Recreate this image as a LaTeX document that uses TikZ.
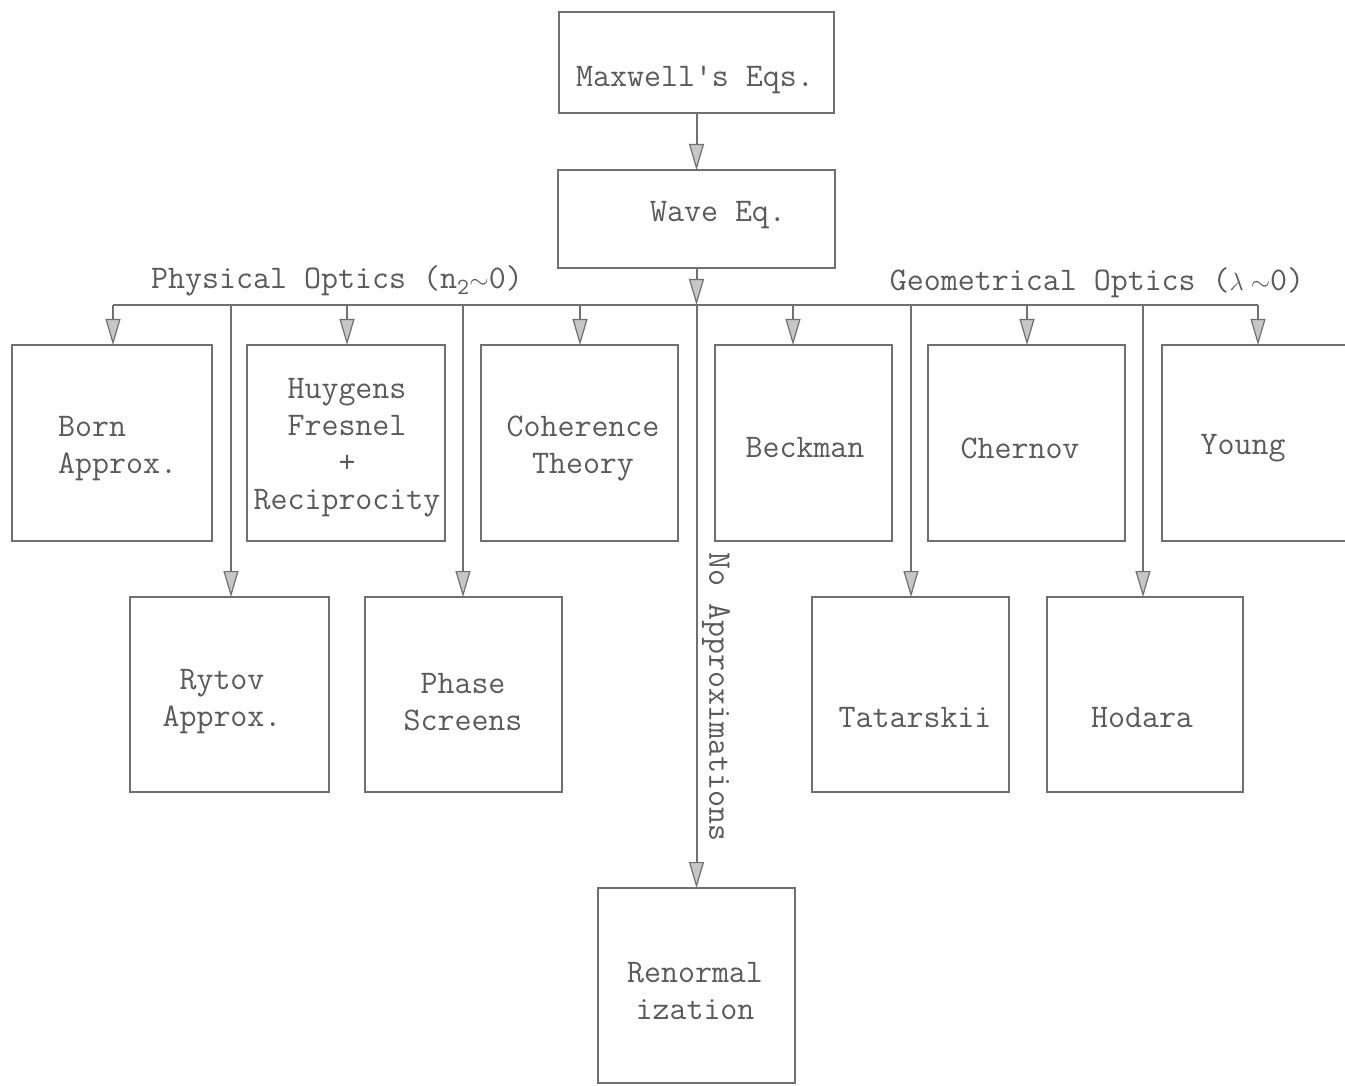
\documentclass[tikz,border=0pt]{standalone}
\usetikzlibrary{arrows.meta}
\definecolor{ln}{HTML}{707070}
\definecolor{tx}{HTML}{5A5A5A}
\begin{document}
\begin{tikzpicture}[x=1pt,y=-1pt,
  box/.style={draw=ln,line width=2.8pt,inner sep=0pt,outer sep=0pt},
  txt/.style={text=tx,font=\fontsize{33}{37}\selectfont\ttfamily,align=center,inner sep=0pt},
  wire/.style={draw=ln,line width=2pt},
  arr/.style={wire,-{Triangle[width=15pt,length=26pt,fill=gray!45,line width=1.2pt]}}]
\useasboundingbox (0,0) rectangle (1345,1086);
% boxes
\node[box,minimum width=275pt,minimum height=101pt] (max) at (696.5,62.5) {};
\node[box,minimum width=277pt,minimum height=98pt] (wave) at (696.5,219) {};
\node[box,minimum width=200pt,minimum height=196pt] (born) at (112,443) {};
\node[box,minimum width=198pt,minimum height=196pt] (huy) at (346,443) {};
\node[box,minimum width=197pt,minimum height=196pt] (coh) at (579.5,443) {};
\node[box,minimum width=177pt,minimum height=196pt] (beck) at (803.5,443) {};
\node[box,minimum width=197pt,minimum height=196pt] (cher) at (1026.5,443) {};
\node[box,minimum width=194pt,minimum height=196pt] (young) at (1259,443) {};
\node[box,minimum width=199pt,minimum height=195pt] (ryt) at (229.5,694.5) {};
\node[box,minimum width=197pt,minimum height=195pt] (pha) at (463.5,694.5) {};
\node[box,minimum width=197pt,minimum height=195pt] (tat) at (910.5,694.5) {};
\node[box,minimum width=196pt,minimum height=195pt] (hod) at (1145,694.5) {};
\node[box,minimum width=197pt,minimum height=195pt] (ren) at (696.5,985.5) {};
% texts
\node[txt] (maxT) at (695,80) {Maxwell's Eqs.};
\node[txt] (waveT) at (718,215) {Wave Eq.};
\node[txt,align=left,anchor=west] (bornT) at (58,449) {Born\\Approx.};
\node[txt] (huyT) at (347,448) {Huygens\\Fresnel\\+\\Reciprocity};
\node[txt] (cohT) at (583,448) {Coherence\\Theory};
\node[txt] (beckT) at (805,448) {Beckman};
\node[txt] (cherT) at (1020,448) {Chernov};
\node[txt] (youngT) at (1243,448) {Young};
\node[txt] (rytT) at (222,702) {Rytov\\Approx.};
\node[txt] (phaT) at (463,702) {Phase\\Screens};
\node[txt] (tatT) at (915,718) {Tatarskii};
\node[txt] (hodT) at (1142,718) {Hodara};
\node[txt] (renT) at (695,991) {Renormal\\ization};
\node[txt] (phys) at (337,281) {Physical Optics (n\textsubscript{2}$\sim$0)};
\node[txt] (geom) at (1097,283) {Geometrical Optics ($\lambda\sim$0)};
\node[txt,rotate=-90] (noap) at (716,697) {No Approximations};
% bus coordinates
\coordinate (busC) at (696.5,305);
\coordinate (b1) at (113,305);
\coordinate (b2) at (347,305);
\coordinate (b3) at (580,305);
\coordinate (b4) at (793,305);
\coordinate (b5) at (1027,305);
\coordinate (b6) at (1258,305);
\coordinate (d1) at (231,305);
\coordinate (d2) at (463,305);
\coordinate (d3) at (911,305);
\coordinate (d4) at (1143,305);
% connectors
\draw[arr] (max.south) -- (wave.north);
\draw[arr] (wave.south) -- (busC);
\draw[wire] (b1) -- (b6);
\draw[arr] (busC) -- (ren.north);
\draw[arr] (b1) -- (b1 |- born.north);
\draw[arr] (b2) -- (b2 |- huy.north);
\draw[arr] (b3) -- (b3 |- coh.north);
\draw[arr] (b4) -- (b4 |- beck.north);
\draw[arr] (b5) -- (b5 |- cher.north);
\draw[arr] (b6) -- (b6 |- young.north);
\draw[arr] (d1) -- (d1 |- ryt.north);
\draw[arr] (d2) -- (d2 |- pha.north);
\draw[arr] (d3) -- (d3 |- tat.north);
\draw[arr] (d4) -- (d4 |- hod.north);
\end{tikzpicture}
\end{document}
